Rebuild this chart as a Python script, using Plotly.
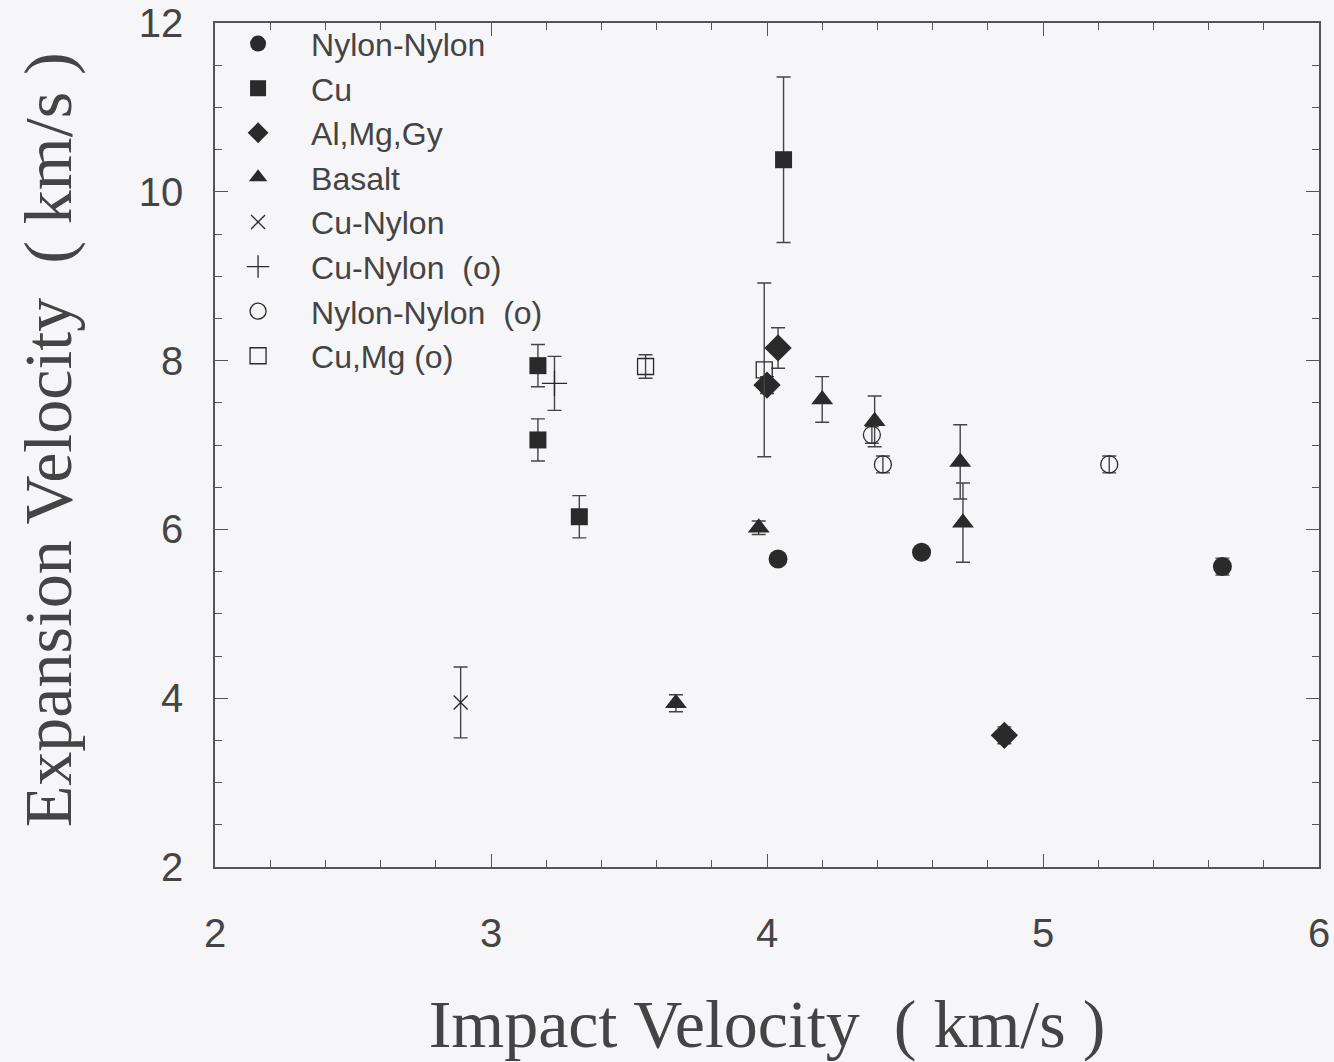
import plotly.graph_objects as go

# ---- data ----
nn_x = [4.04, 4.56, 5.65]
nn_y = [5.65, 5.73, 5.56]
nn_e = [0.06, 0.05, 0.10]

cu_x = [3.17, 3.17, 3.32, 4.06]
cu_y = [7.94, 7.06, 6.15, 10.38]
cu_e = [0.25, 0.25, 0.25, 0.98]

amg_x = [4.04, 4.00, 4.86]
amg_y = [8.15, 7.71, 3.56]
amg_e = [0.24, 0.10, 0.10]

bas_x = [3.67, 3.97, 4.20, 4.39, 4.70, 4.71]
bas_y = [3.94, 6.02, 7.54, 7.28, 6.80, 6.08]
bas_e = [0.10, 0.08, 0.27, 0.30, 0.44, 0.47]

cun_x = [2.89]
cun_y = [3.95]
cun_e = [0.42]

cuno_x = [3.23]
cuno_y = [7.73]
cuno_e = [0.32]

nno_x = [4.38, 4.42, 5.24]
nno_y = [7.12, 6.77, 6.77]
nno_e = [0.10, 0.10, 0.10]

cumg_x = [3.56, 3.99]
cumg_y = [7.93, 7.89]
cumg_e = [0.14, 1.03]

x_ticks = [2, 3, 4, 5, 6]
y_ticks = [2, 4, 6, 8, 10, 12]

INK = "#2a2a2a"
BG = "#f6f5f7"
TITLE_FONT = dict(family="Liberation Serif, Times New Roman, serif", size=68, color="#444")

series = [
    ("Nylon-Nylon", nn_x, nn_y, nn_e, "circle", 19, True),
    ("Cu", cu_x, cu_y, cu_e, "square", 17, True),
    ("Al,Mg,Gy", amg_x, amg_y, amg_e, "diamond", 21, True),
    ("Basalt", bas_x, bas_y, bas_e, "triangle-up", 19, True),
    ("Cu-Nylon", cun_x, cun_y, cun_e, "x-thin-open", 14, False),
    ("Cu-Nylon\u00a0 (o)", cuno_x, cuno_y, cuno_e, "cross-thin-open", 18, False),
    ("Nylon-Nylon\u00a0 (o)", nno_x, nno_y, nno_e, "circle-open", 17, False),
    ("Cu,Mg (o)", cumg_x, cumg_y, cumg_e, "square-open", 16, False),
]

fig = go.Figure()
for name, xs, ys, es, sym, size, filled in series:
    if filled:
        marker = dict(symbol=sym, size=size, color=INK, line=dict(width=0))
    else:
        marker = dict(symbol=sym, size=size, color=INK, line=dict(width=1.3, color="#444"))
    fig.add_trace(go.Scatter(
        x=xs, y=ys, mode="markers", name=name, marker=marker,
        error_y=dict(type="data", array=es, visible=True, color="#444",
                     thickness=1.4, width=7),
    ))

axis_common = dict(
    showgrid=False, zeroline=False, showline=True, linecolor="#555", linewidth=1.5,
    mirror="ticks", ticks="inside", ticklen=13, tickwidth=1.4, tickcolor="#555",
    tickfont=dict(family="Liberation Sans, Arial, sans-serif", size=40, color="#444"),
)

fig.update_xaxes(
    range=[2, 6], tickvals=x_ticks, ticklabelstandoff=30,
    minor=dict(dtick=0.2, ticks="inside", ticklen=7, tickwidth=1.2, tickcolor="#555"),
    title=dict(text="Impact Velocity\u00a0 (\u00a0km/s\u00a0)", font=TITLE_FONT, standoff=46),
    **axis_common,
)
fig.update_yaxes(
    range=[2, 12], tickvals=y_ticks, ticklabelstandoff=22,
    minor=dict(dtick=0.5, ticks="inside", ticklen=7, tickwidth=1.2, tickcolor="#555"),
    **axis_common,
)

fig.add_annotation(
    text="Expansion Velocity\u00a0 (\u00a0km/s\u00a0)", textangle=-90,
    xref="paper", yref="paper", x=-0.151, y=0.506,
    xanchor="center", yanchor="middle", showarrow=False, font=TITLE_FONT,
)

fig.update_layout(
    width=1334, height=1062,
    margin=dict(l=215, r=15, t=23, b=195, autoexpand=False),
    paper_bgcolor=BG, plot_bgcolor=BG,
    showlegend=True,
    legend=dict(
        x=-0.009, y=1.008, xanchor="left", yanchor="top",
        bgcolor="rgba(0,0,0,0)", borderwidth=0,
        font=dict(family="Liberation Sans, Arial, sans-serif", size=32, color="#444"),
        itemwidth=96, tracegroupgap=0,
    ),
)

fig.write_html("out.html", config={"displayModeBar": False})

# remove the default page margin so the figure fills the window exactly
with open("out.html", "r", encoding="utf-8") as f:
    html = f.read()
html = html.replace("<head>", "<head><style>html,body{margin:0;padding:0;background:%s;}</style>" % BG, 1)
with open("out.html", "w", encoding="utf-8") as f:
    f.write(html)
